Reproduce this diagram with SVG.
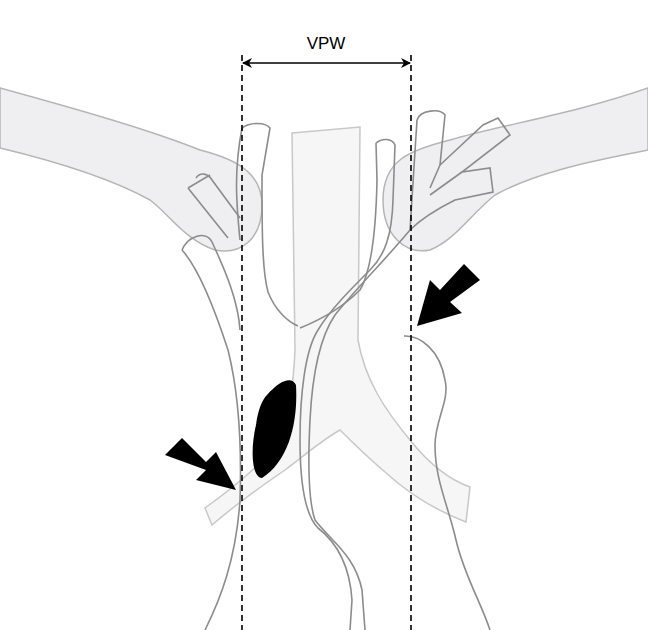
<svg xmlns="http://www.w3.org/2000/svg" width="648" height="630" viewBox="0 0 648 630">
<defs>
<style>
.band{fill:#efeff1;stroke:#b5b5b5;stroke-width:1.5}
.tube{fill:#f6f6f6;stroke:#c8c8c8;stroke-width:1.5}
.ves{fill:none;stroke:#8c8c8c;stroke-width:1.6}
.dash{stroke:#000;stroke-width:1.6;stroke-dasharray:6,4}
</style>
<marker id="ah" markerWidth="10" markerHeight="10" refX="9" refY="5" orient="auto-start-reverse" markerUnits="userSpaceOnUse"><path d="M0,0 L10,5 L0,10 L3,5 Z" fill="#000"/></marker>
</defs>
<rect width="648" height="630" fill="#fff"/>
<g id="clavicles">
<path class="band" d="M0,88 C80,110 150,130 200,150 C240,160 262,175 262,205 C262,240 240,255 215,250 C185,240 170,215 150,200 C110,178 50,160 0,148 Z"/>
<path class="band" d="M648,88 C570,115 500,125 450,140 C410,150 383,160 383,200 C383,235 405,255 430,250 C455,240 470,215 495,195 C540,170 600,160 648,150 Z"/>
</g>
<g id="trachea">
<path class="tube" d="M292,133 L360,127 L358,340 C365,380 385,410 410,440 C430,465 450,480 470,487 L466,522 C440,512 410,495 385,472 C365,455 350,440 340,430 C322,440 305,455 285,470 C260,487 235,505 212,525 L205,508 C230,490 255,470 272,450 C285,430 293,400 295,350 Z"/>
</g>
<g id="vessels">
<path class="ves" d="M242,128 C250,122 265,122 270,128 L262,175 C262,230 262,270 268,292 C275,310 288,322 298,326"/>
<path class="ves" d="M242,128 C234,170 236,200 240,240"/>
<path class="ves" d="M182,250 C188,236 206,230 212,242 C225,270 238,300 240,330"/>
<path class="ves" d="M182,250 C200,270 215,310 228,350 C238,390 242,440 240,500 C236,560 220,600 205,630"/>
<path class="ves" d="M196,178 C200,172 208,173 212,180 L240,218"/>
<path class="ves" d="M188,188 L210,175 M188,188 L228,238"/>
<path class="ves" d="M376,143 C382,138 392,138 395,145 L393,200 C392,235 385,255 370,270 C350,290 330,310 318,330 C305,350 300,395 300,440 C300,480 305,515 318,528 C340,545 350,570 352,600 L350,630"/>
<path class="ves" d="M376,143 L377,180 C376,230 372,270 360,290 C345,305 325,318 300,328"/>
<path class="ves" d="M417,120 C420,110 440,108 445,115 L440,165 L483,125 L498,118 L510,135 L462,172 L490,168 L493,192 L455,200 C435,210 420,220 410,230 C385,260 355,290 335,315 C318,340 312,380 310,420 C308,460 308,500 315,520 C330,540 355,555 362,590 L365,630"/>
<path class="ves" d="M417,120 L410,230"/>
<path class="ves" d="M440,165 L430,188 M462,172 L430,195"/>
<path class="ves" d="M404,336 C420,335 440,350 445,380 C450,400 435,420 435,445 C435,480 448,505 456,540 C464,575 480,600 490,630"/>
</g>
<g id="mass">
<path d="M267,395 C280,380 292,376 296,385 C298,420 290,460 262,478 C252,478 250,450 256,425 C258,410 262,400 267,395 Z" fill="#000"/>
</g>
<g id="arrows">
<path d="M165,455 L182,438 L206,462 L216,452 L236,490 L196,480 L206,470 Z" fill="#000"/>
<path d="M480,280 L464,264 L440,290 L430,280 L417,326 L462,313 L450,302 Z" fill="#000"/>
</g>
<g id="connectors">
<line class="dash" x1="242" y1="55" x2="242" y2="630"/>
<line class="dash" x1="411" y1="55" x2="411" y2="630"/>
<line x1="243" y1="63" x2="410" y2="63" stroke="#000" stroke-width="1.6" marker-start="url(#ah)" marker-end="url(#ah)"/>
</g>
<g id="label"><text x="326" y="49" font-family="Liberation Sans, Arial, sans-serif" font-size="17" text-anchor="middle">VPW</text></g>
</svg>
